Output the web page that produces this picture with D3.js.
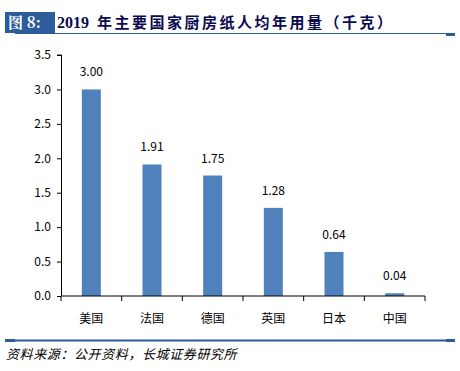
<!DOCTYPE html>
<html>
<head>
<meta charset="utf-8">
<script src="https://cdn.jsdelivr.net/npm/d3@7"></script>
<style>
  body { margin: 0; background: #fff; }
  svg { display: block; }
</style>
</head>
<body>
<div id="chart"></div>
<script>
// data
const countries = ["美国", "法国", "德国", "英国", "日本", "中国"];
const usage = [3.00, 1.91, 1.75, 1.28, 0.64, 0.04];
const yTicks = [0, 0.5, 1.0, 1.5, 2.0, 2.5, 3.0, 3.5];

const width = 460, height = 371;
const blue = "#2c5d9a";

const svg = d3.select("#chart").append("svg")
    .attr("width", width)
    .attr("height", height);

// title bar
svg.append("rect").attr("x", 5).attr("y", 12).attr("width", 50).attr("height", 21).attr("fill", blue);
svg.append("text").attr("x", 8).attr("y", 28)
    .attr("fill", "#fff")
    .style("font-family", "'Noto Serif CJK SC','Noto Sans CJK SC',serif")
    .style("font-size", "15px").style("font-weight", "bold")
    .text("图 8:");
const title = svg.append("text").attr("y", 28)
    .attr("fill", "#0a0a50")
    .style("font-family", "'Liberation Serif','Noto Sans CJK SC',serif")
    .style("font-size", "16px").style("font-weight", "bold");
title.append("tspan").attr("x", 57).text("2019");
title.append("tspan").attr("x", 97).style("font-size", "15px").style("letter-spacing", "2.5px")
    .text("年主要国家厨房纸人均年用量（千克）");
svg.append("line").attr("x1", 15).attr("x2", 446).attr("y1", 33.5).attr("y2", 33.5)
    .attr("stroke", blue).attr("stroke-width", 1);
svg.append("rect").attr("x", 446).attr("y", 33).attr("width", 9).attr("height", 3).attr("fill", blue);

// plot
const x = d3.scaleBand().domain(countries).range([61, 425]).paddingInner(0).paddingOuter(0);
const y = d3.scaleLinear().domain([0, 3.5]).range([296, 55]);

const barW = 19;
const font = "'Noto Sans CJK SC','DejaVu Sans',sans-serif";

svg.selectAll("rect.bar")
    .data(usage)
    .enter()
    .append("rect")
    .attr("class", "bar")
    .attr("x", (d, i) => x(countries[i]) + x.bandwidth() / 2 - barW / 2)
    .attr("y", d => y(d))
    .attr("width", barW)
    .attr("height", d => y(0) - y(d))
    .attr("fill", "#4f81bd");

svg.selectAll("text.val")
    .data(usage)
    .enter()
    .append("text")
    .attr("class", "val")
    .attr("x", (d, i) => x(countries[i]) + x.bandwidth() / 2)
    .attr("y", d => y(d) - 13)
    .attr("text-anchor", "middle")
    .style("font-family", font)
    .style("font-size", "12px")
    .attr("fill", "#000")
    .text(d => d.toFixed(2));

// y axis
const yAxis = svg.append("g")
    .attr("transform", "translate(61,0)")
    .call(d3.axisLeft(y).tickValues(yTicks).tickFormat(d3.format(".1f")).tickSize(4).tickPadding(6));
yAxis.select(".domain").attr("d", "M-4," + y(3.5) + "H0.5V" + y(0));
yAxis.selectAll("text").style("font-family", font).style("font-size", "12px").attr("fill", "#000");

// x axis
const xAxis = svg.append("g").attr("transform", "translate(0," + y(0) + ")");
xAxis.append("line").attr("x1", 61).attr("x2", 425).attr("stroke", "#000");
const edges = countries.map(c => x(c)).concat([425]);
xAxis.selectAll("line.tk")
    .data(edges)
    .enter()
    .append("line")
    .attr("class", "tk")
    .attr("x1", d => d).attr("x2", d => d)
    .attr("y1", 0).attr("y2", 5)
    .attr("stroke", "#000");
xAxis.selectAll("text")
    .data(countries)
    .enter()
    .append("text")
    .attr("x", d => x(d) + x.bandwidth() / 2)
    .attr("y", 27)
    .attr("text-anchor", "middle")
    .style("font-family", font)
    .style("font-size", "12px")
    .attr("fill", "#000")
    .text(d => d);

// bottom rule and source
svg.append("rect").attr("x", 15).attr("y", 339.5).attr("width", 431).attr("height", 2).attr("fill", blue);
svg.append("rect").attr("x", 5).attr("y", 339).attr("width", 10).attr("height", 3).attr("fill", blue);
svg.append("rect").attr("x", 446).attr("y", 339).attr("width", 9).attr("height", 3).attr("fill", blue);
svg.append("text").attr("x", 6).attr("y", 359)
    .style("font-family", font)
    .style("font-size", "13px")
    .style("font-style", "italic")
    .style("letter-spacing", "0.6px")
    .attr("fill", "#000")
    .text("资料来源：公开资料，长城证券研究所");
</script>
</body>
</html>
